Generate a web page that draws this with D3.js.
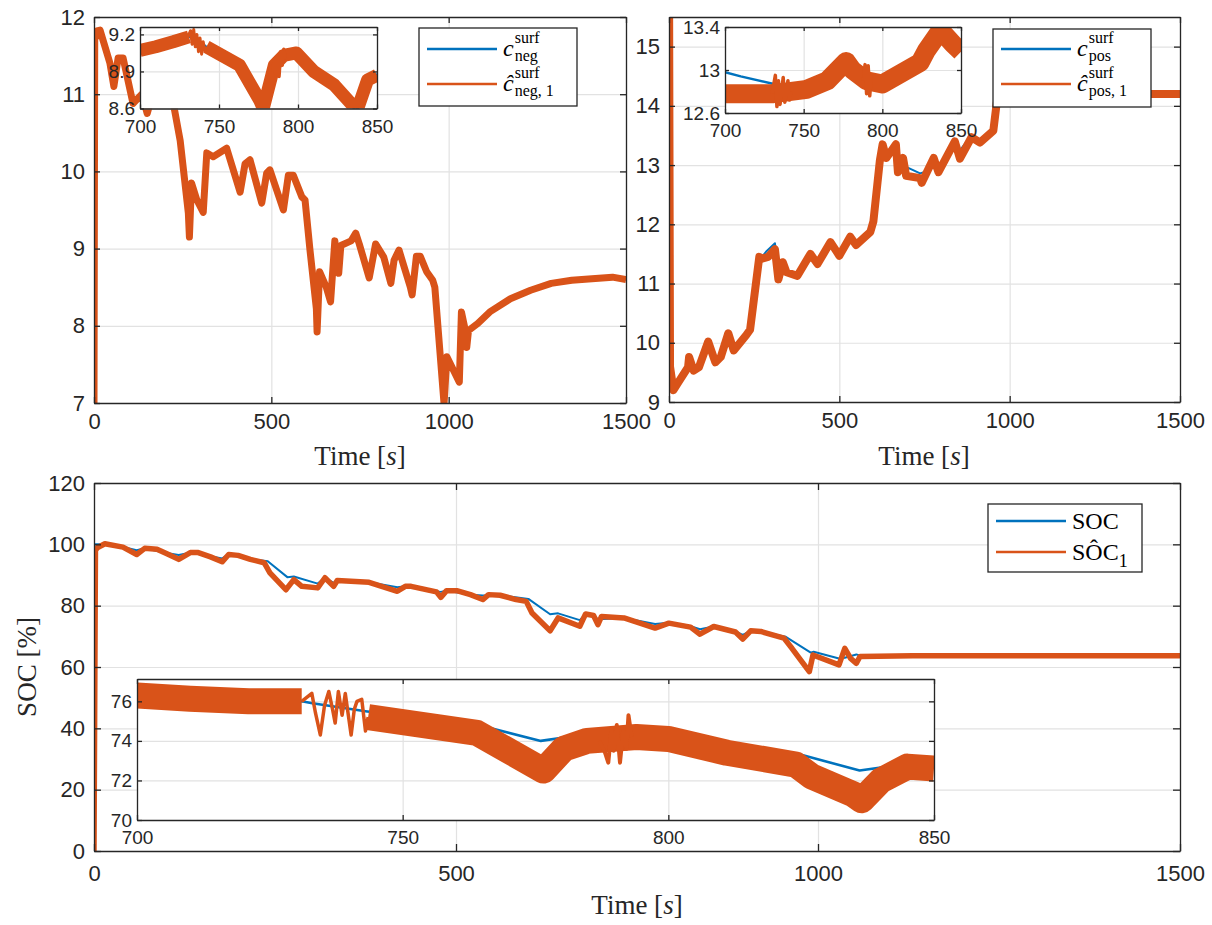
<!DOCTYPE html>
<html>
<head>
<meta charset="utf-8">
<script src="https://cdn.jsdelivr.net/npm/d3@7"></script>
<style>
  body { margin: 0; background: #fff; }
  svg { display: block; }
</style>
</head>
<body>
<svg width="1212" height="925"></svg>
<script>
// MATLAB default colours
const blue = "#0072BD";
const orange = "#D95319";
const ink = "#262626";
const gridColor = "#e2e2e2";
const sans = "'Liberation Sans', Arial, Helvetica, sans-serif";
const serif = "'Liberation Serif', 'Times New Roman', serif";

// ---------- c_neg surface concentration, [time s, value] ----------
const negTrue = [[0,6.9],[2,11.7],[8,11.82],[17,11.83],[45,11.4],[56,11.12],[68,11.47],[82,11.47],[110,10.9],[135,11.0],[150,10.8],[165,11.0],[190,11.1],[215,11.0],[225,10.87],[243,10.4],[266,9.5],[269,9.4],[275,9.85],[290,9.63],[308,9.5],[318,10.24],[336,10.19],[374,10.3],[412,9.75],[426,10.1],[440,10.15],[473,9.62],[487,9.98],[496,10.02],[534,9.52],[548,9.95],[562,9.95],[586,9.67],[595,9.63],[609,8.98],[627,8.22],[630,8.2],[636,8.7],[655,8.5],[667,8.35],[679,9.1],[690,8.7],[696,9.04],[725,9.1],[738,9.2],[748,9.06],[776,8.65],[794,9.06],[817,8.89],[837,8.57],[846,8.85],[860,8.98],[892,8.52],[897,8.45],[909,8.9],[920,8.9],[938,8.7],[955,8.6],[961,8.5],[985,7.15],[995,7.6],[1030,7.3],[1036,8.18],[1047,7.95],[1051,7.8],[1056,7.94],[1082,8.03],[1116,8.18],[1174,8.35],[1231,8.46],[1289,8.55],[1347,8.59],[1404,8.61],[1462,8.63],[1500,8.6]];
const negEst = [[0,6.9],[2,11.7],[8,11.82],[17,11.83],[45,11.4],[56,11.1],[68,11.47],[82,11.47],[110,10.88],[135,11.0],[150,10.75],[165,11.0],[190,11.1],[215,11.0],[225,10.85],[243,10.4],[266,9.46],[269,9.15],[275,9.85],[290,9.63],[308,9.47],[318,10.24],[336,10.19],[374,10.3],[412,9.73],[426,10.1],[440,10.15],[473,9.59],[487,9.98],[496,10.02],[534,9.5],[548,9.95],[562,9.95],[586,9.67],[595,9.63],[609,8.98],[627,8.22],[629,7.92],[636,8.7],[655,8.5],[667,8.31],[679,9.1],[690,8.68],[696,9.04],[725,9.1],[738,9.2],[748,9.06],[776,8.62],[794,9.06],[817,8.89],[837,8.55],[846,8.85],[860,8.98],[892,8.5],[897,8.4],[909,8.9],[920,8.9],[938,8.7],[955,8.59],[961,8.5],[987,6.99],[995,7.6],[1030,7.27],[1036,8.18],[1047,7.94],[1051,7.72],[1056,7.94],[1082,8.03],[1116,8.18],[1174,8.35],[1231,8.46],[1289,8.55],[1347,8.59],[1404,8.61],[1462,8.63],[1500,8.6]];
const negZoomTrue = [[700,9.07],[721,9.14],[734,9.19],[742,9.1],[763,8.95],[777,8.63],[785,8.95],[799,9.05],[823,8.79],[836,8.59],[838,8.6],[844,8.84],[850,8.88]];
const negZoomEst = [[700,9.07],[710,9.1],[721,9.14],[731,9.18],[null,null],[742,9.1],[763,8.95],[776,8.66],[778,8.6],[785,8.95],[791,9.03],[799,9.05],[810,8.9],[823,8.79],[835,8.62],[837,8.57],[844,8.83],[850,8.87]];
const negZoomNoise = [[730,9.17],[732,9.23],[733,9.12],[734,9.24],[735,9.1],[736,9.2],[737,9.06],[738,9.17],[739,9.04],[740,9.14],[741,9.07],[742,9.1]];
const negZoomNoise2 = [[784,8.9],[785,9.0],[786,8.87],[787,9.02],[788,8.86],[789,9.06],[790,8.95],[791,9.08],[792,9.0]];

// ---------- c_pos surface concentration ----------
const posTrue = [[0,16.5],[3,9.4],[13,9.15],[24,9.3],[56,9.62],[59,9.76],[72,9.56],[88,9.6],[115,10.02],[136,9.7],[152,9.78],[174,10.16],[190,9.9],[227,10.15],[238,10.25],[265,11.5],[273,11.45],[287,11.55],[311,11.68],[321,11.12],[334,11.36],[345,11.22],[377,11.17],[415,11.52],[436,11.36],[474,11.72],[500,11.5],[532,11.8],[549,11.68],[591,11.88],[600,12.05],[619,13.1],[627,13.38],[638,13.18],[666,13.38],[672,12.95],[687,13.1],[696,12.97],[737,12.86],[760,12.9],[777,13.12],[800,12.92],[839,13.42],[854,13.25],[888,13.5],[913,13.42],[952,13.6],[962,14.05],[980,14.2],[1500,14.22]];
const posEst = [[0,16.5],[3,9.6],[13,9.2],[24,9.3],[56,9.59],[59,9.76],[72,9.53],[88,9.59],[115,10.02],[136,9.67],[152,9.76],[174,10.16],[190,9.87],[227,10.13],[238,10.22],[265,11.45],[273,11.42],[291,11.45],[311,11.58],[321,11.07],[334,11.36],[345,11.19],[377,11.13],[415,11.5],[436,11.33],[474,11.7],[500,11.47],[532,11.79],[549,11.65],[591,11.87],[600,12.05],[619,13.08],[627,13.35],[638,13.12],[666,13.35],[672,12.88],[687,13.12],[696,12.82],[737,12.78],[742,12.7],[777,13.12],[791,12.88],[839,13.4],[854,13.11],[888,13.47],[913,13.38],[952,13.58],[962,14.05],[980,14.2],[1100,14.22],[1300,14.2],[1500,14.2]];
const posZoomTrue = [[700,12.98],[710,12.94],[731,12.87],[752,12.84],[765,12.92],[777,13.12],[786,13.0],[794,12.94],[800,12.92],[824,13.08],[837,13.4],[850,13.27]];
const posZoomEst = [[700,12.78],[731,12.78],[752,12.82],[765,12.9],[777,13.08],[781,13.0],[790,12.9],[800,12.87],[824,13.07],[828,13.18],[837,13.37],[845,13.24],[850,13.17]];
const posZoomNoise = [[730,12.78],[732,12.95],[733,12.66],[734,12.9],[735,12.68],[737,12.93],[738,12.7],[740,12.9],[741,12.72],[742,12.8]];
const posZoomNoise2 = [[788,12.9],[789,13.05],[790,12.78],[791,13.04],[792,12.76],[793,12.95]];

// ---------- SOC [%] ----------
const socTrue = [[0,100],[15,100],[40,99.1],[59,98.1],[70,98.7],[100,97.2],[117,96.5],[133,97.3],[161,96.1],[177,95.4],[186,96.7],[216,95.2],[240,94.5],[267,89.3],[276,89.5],[309,87.2],[319,89.1],[331,87.4],[336,88.2],[380,87.6],[419,86.0],[430,86.3],[473,84.7],[479,84.5],[487,84.9],[520,83.6],[537,83.3],[561,83.4],[600,82.2],[630,77.2],[641,77.5],[671,75.3],[679,77.3],[690,76.8],[696,75.6],[732,76],[775,74],[794,74.4],[824,73.3],[837,72.3],[856,73.2],[886,71.6],[896,70.5],[907,71.8],[921,71.6],[955,69.9],[990,64.7],[994,65],[1029,62.8],[1037,63],[1053,64.1],[1058,63.7],[1500,63.7]];
const socEst = [[0,0],[2,98],[4.5,98.9],[15,100.2],[40,99.1],[59,96.7],[70,98.7],[87,98.4],[100,97],[117,95.1],[133,97.3],[144,97.3],[161,95.9],[177,94.3],[186,96.7],[199,96.4],[216,95.1],[235,94],[243,90.7],[265,85.2],[276,88.5],[287,86.3],[309,85.8],[319,89.1],[331,86.3],[336,88.2],[380,87.6],[419,84.7],[430,86.3],[438,86.3],[473,84.5],[479,82.7],[487,84.9],[501,84.9],[520,83.6],[537,82],[545,83.6],[561,83.4],[583,82],[597,81.4],[605,77.6],[630,71.8],[641,76],[671,73.3],[679,77.3],[690,76.8],[696,73.8],[701,76.5],[732,76],[775,72.7],[794,74.3],[824,73],[837,70.7],[856,73.2],[886,71.4],[896,69.1],[907,71.8],[921,71.6],[953,69.4],[964,66.1],[988,58.5],[993,63.9],[1029,60.7],[1037,66.1],[1045,62.8],[1053,61.2],[1058,63.4],[1131,63.7],[1239,63.7],[1347,63.7],[1500,63.7]];
const socZoomTrue = [[700,76.4],[731,76.0],[733,75.9],[743,75.5],[765,74.75],[776,74.0],[781,74.2],[800,74.15],[825,73.3],[836,72.5],[844,72.8],[850,72.9]];
const socZoomEst = [[700,76.3],[710,76.13],[721,76.0],[731,76.0],[null,null],[743.5,75.2],[764,74.4],[776.5,72.5],[780.3,73.6],[784.7,74.0],[794,74.2],[800,74.1],[811,73.4],[824,72.8],[827,72.2],[834.8,71.3],[836.4,71.0],[840,72.0],[845,72.7],[850,72.6]];
const socZoomNoise = [[731,76.0],[732.9,76.4],[733.6,75.4],[734.5,74.3],[735.3,75.8],[736.1,76.5],[736.8,75.6],[737.3,74.9],[737.9,76.5],[738.6,75.3],[739.2,76.4],[740.3,74.3],[740.9,75.6],[741.4,76.0],[742.3,76.1],[743,74.5],[743.5,75.2]];
const socZoomNoise2 = [[787,74.0],[788.1,73.4],[788.7,72.9],[789.3,74.6],[789.7,73.5],[790.3,74.8],[790.9,72.9],[791.5,74.5],[792.1,73.6],[792.5,75.3],[793.1,74.2]];

// tick values
const timeTicks = [0, 500, 1000, 1500];
const zoomTicks = [700, 750, 800, 850];
const negTicks = [7, 8, 9, 10, 11, 12];
const posTicks = [9, 10, 11, 12, 13, 14, 15];
const socTicks = [0, 20, 40, 60, 80, 100, 120];
const negZoomYTicks = [8.6, 8.9, 9.2];
const posZoomYTicks = [12.6, 13, 13.4];
const socZoomYTicks = [70, 72, 74, 76];

const svg = d3.select("svg");
let clipCount = 0;
const plain = (d) => String(d);

const styleAxis = (sel, fs) => {
  sel.attr("font-family", sans).attr("font-size", fs);
  sel.select(".domain").attr("stroke", ink).attr("stroke-width", 1.3);
  sel.selectAll(".tick line").attr("stroke", ink).attr("stroke-width", 1.3);
  sel.selectAll(".tick text").attr("fill", ink);
};

const drawAxes = (cfg) => {
  const { left, right, top, bottom } = cfg;
  const x = d3.scaleLinear().domain(cfg.xDomain).range([left, right]);
  const y = d3.scaleLinear().domain(cfg.yDomain).range([bottom, top]);
  const g = svg.append("g");

  if (cfg.inset) {
    g.append("rect")
      .attr("x", left).attr("y", top)
      .attr("width", right - left).attr("height", bottom - top)
      .attr("fill", "#fff");
  }

  // grid
  g.append("g")
    .attr("transform", `translate(0,${bottom})`)
    .call(d3.axisBottom(x).tickValues(cfg.xTicks).tickSize(-(bottom - top)).tickFormat(""))
    .call((a) => a.select(".domain").remove())
    .selectAll("line").attr("stroke", gridColor).attr("stroke-width", 1.2);
  g.append("g")
    .attr("transform", `translate(${left},0)`)
    .call(d3.axisLeft(y).tickValues(cfg.yTicks).tickSize(-(right - left)).tickFormat(""))
    .call((a) => a.select(".domain").remove())
    .selectAll("line").attr("stroke", gridColor).attr("stroke-width", 1.2);

  // series, clipped to the axes
  const id = "clip" + clipCount++;
  svg.append("clipPath").attr("id", id)
    .append("rect")
    .attr("x", left).attr("y", top)
    .attr("width", right - left).attr("height", bottom - top);
  const plot = g.append("g").attr("clip-path", `url(#${id})`);
  const line = d3.line()
    .defined((d) => d[1] !== null)
    .x((d) => x(d[0]))
    .y((d) => y(d[1]));
  cfg.series.forEach((s) => {
    plot.append("path")
      .datum(s.data)
      .attr("d", line)
      .attr("fill", "none")
      .attr("stroke", s.color)
      .attr("stroke-width", s.width)
      .attr("stroke-linejoin", "round")
      .attr("stroke-linecap", s.cap || "butt");
  });

  // box with inward ticks
  const tl = cfg.tickLen;
  g.append("g")
    .attr("transform", `translate(0,${bottom})`)
    .call(d3.axisBottom(x).tickValues(cfg.xTicks).tickFormat(plain)
      .tickSizeInner(-tl).tickSizeOuter(0).tickPadding(cfg.xPad))
    .call((a) => styleAxis(a, cfg.fontSize));
  g.append("g")
    .attr("transform", `translate(0,${top})`)
    .call(d3.axisTop(x).tickValues(cfg.xTicks).tickSizeInner(-tl).tickSizeOuter(0).tickFormat(""))
    .call((a) => styleAxis(a, cfg.fontSize));
  g.append("g")
    .attr("transform", `translate(${left},0)`)
    .call(d3.axisLeft(y).tickValues(cfg.yTicks).tickFormat(plain)
      .tickSizeInner(-tl).tickSizeOuter(0).tickPadding(cfg.yPad))
    .call((a) => styleAxis(a, cfg.fontSize));
  g.append("g")
    .attr("transform", `translate(${right},0)`)
    .call(d3.axisRight(y).tickValues(cfg.yTicks).tickSizeInner(-tl).tickSizeOuter(0).tickFormat(""))
    .call((a) => styleAxis(a, cfg.fontSize));

  return { x, y, g };
};

const timeLabel = (cx, baseline) => {
  const t = svg.append("text")
    .attr("x", cx).attr("y", baseline)
    .attr("text-anchor", "middle")
    .attr("font-family", serif).attr("font-size", 27).attr("fill", ink);
  t.append("tspan").text("Time [");
  t.append("tspan").attr("font-style", "italic").text("s");
  t.append("tspan").text("]");
};

// legend with LaTeX-like stacked super/subscripts
const legend = (box, entries) => {
  const g = svg.append("g");
  g.append("rect")
    .attr("x", box.x).attr("y", box.y)
    .attr("width", box.w).attr("height", box.h)
    .attr("fill", "#fff").attr("stroke", ink).attr("stroke-width", 1.3);
  entries.forEach((e, i) => {
    const yy = box.y + box.first + i * box.step;
    g.append("line")
      .attr("x1", box.x + 8).attr("x2", box.x + 78)
      .attr("y1", yy).attr("y2", yy)
      .attr("stroke", e.color).attr("stroke-width", 2.6);
    const tx = box.x + 84;
    const main = g.append("text")
      .attr("x", tx).attr("y", yy + 7)
      .attr("font-family", serif).attr("font-size", 24).attr("fill", "#000");
    main.append("tspan").attr("font-style", "italic").text(e.base);
    const bw = main.node().getComputedTextLength();
    g.append("text")
      .attr("x", tx + bw + 1).attr("y", yy - 6)
      .attr("font-family", serif).attr("font-size", 16).attr("fill", "#000")
      .text(e.sup);
    g.append("text")
      .attr("x", tx + bw + 1).attr("y", yy + 12)
      .attr("font-family", serif).attr("font-size", 16).attr("fill", "#000")
      .text(e.sub);
  });
};

// ---------- top left: negative electrode ----------
drawAxes({
  left: 94, right: 626, top: 17, bottom: 403,
  xDomain: [0, 1500], yDomain: [7, 12],
  xTicks: timeTicks, yTicks: negTicks,
  tickLen: 6, fontSize: 22, xPad: 10, yPad: 9,
  series: [
    { data: negTrue, color: blue, width: 2 },
    { data: negEst, color: orange, width: 7 },
  ],
});
drawAxes({
  inset: true,
  left: 140, right: 377, top: 27, bottom: 108.5,
  xDomain: [700, 850], yDomain: [8.6, 9.26],
  xTicks: zoomTicks, yTicks: negZoomYTicks,
  tickLen: 4, fontSize: 19, xPad: 11, yPad: 5,
  series: [
    { data: negZoomTrue, color: blue, width: 2.2 },
    { data: negZoomEst, color: orange, width: 13 },
    { data: negZoomNoise, color: orange, width: 3 },
    { data: negZoomNoise2, color: orange, width: 3.5 },
  ],
});
legend({ x: 419, y: 28, w: 158, h: 78, first: 21, step: 35 }, [
  { color: blue, base: "c", sup: "surf", sub: "neg" },
  { color: orange, base: "\u0109", sup: "surf", sub: "neg, 1" },
]);
timeLabel(360, 465);

// ---------- top right: positive electrode ----------
drawAxes({
  left: 669, right: 1180, top: 17, bottom: 402,
  xDomain: [0, 1500], yDomain: [9, 15.5],
  xTicks: timeTicks, yTicks: posTicks,
  tickLen: 6, fontSize: 22, xPad: 10, yPad: 9,
  series: [
    { data: posTrue, color: blue, width: 2 },
    { data: posEst, color: orange, width: 8 },
  ],
});
drawAxes({
  inset: true,
  left: 725, right: 961, top: 27, bottom: 113,
  xDomain: [700, 850], yDomain: [12.6, 13.4],
  xTicks: zoomTicks, yTicks: posZoomYTicks,
  tickLen: 4, fontSize: 19, xPad: 11, yPad: 5,
  series: [
    { data: posZoomTrue, color: blue, width: 2.4 },
    { data: posZoomEst, color: orange, width: 19 },
    { data: posZoomNoise, color: orange, width: 3.5 },
    { data: posZoomNoise2, color: orange, width: 3.5 },
  ],
});
legend({ x: 993, y: 29, w: 158, h: 78, first: 20, step: 35 }, [
  { color: blue, base: "c", sup: "surf", sub: "pos" },
  { color: orange, base: "\u0109", sup: "surf", sub: "pos, 1" },
]);
timeLabel(924, 465);

// ---------- bottom: SOC ----------
drawAxes({
  left: 94, right: 1180, top: 483, bottom: 851,
  xDomain: [0, 1500], yDomain: [0, 120],
  xTicks: timeTicks, yTicks: socTicks,
  tickLen: 7, fontSize: 22, xPad: 14, yPad: 9,
  series: [
    { data: socTrue, color: blue, width: 2 },
    { data: socEst, color: orange, width: 5.5 },
  ],
});
drawAxes({
  inset: true,
  left: 137, right: 934, top: 679, bottom: 820,
  xDomain: [700, 850], yDomain: [70, 77.13],
  xTicks: zoomTicks, yTicks: socZoomYTicks,
  tickLen: 5, fontSize: 19, xPad: 11, yPad: 5,
  series: [
    { data: socZoomTrue, color: blue, width: 2.6 },
    { data: socZoomEst, color: orange, width: 26 },
    { data: socZoomNoise, color: orange, width: 3.5 },
    { data: socZoomNoise2, color: orange, width: 4 },
  ],
});

// SOC legend
const socLeg = svg.append("g");
socLeg.append("rect")
  .attr("x", 988).attr("y", 504).attr("width", 154).attr("height", 68)
  .attr("fill", "#fff").attr("stroke", ink).attr("stroke-width", 1.3);
[{ c: blue, y: 521 }, { c: orange, y: 552 }].forEach((d) => {
  socLeg.append("line")
    .attr("x1", 996).attr("x2", 1066).attr("y1", d.y).attr("y2", d.y)
    .attr("stroke", d.c).attr("stroke-width", 2.6);
});
socLeg.append("text")
  .attr("x", 1072).attr("y", 529)
  .attr("font-family", serif).attr("font-size", 24).attr("fill", "#000")
  .text("SOC");
const socHat = socLeg.append("text")
  .attr("x", 1072).attr("y", 560)
  .attr("font-family", serif).attr("font-size", 24).attr("fill", "#000");
socHat.append("tspan").text("S\u00D4C");
socHat.append("tspan").attr("font-size", 18).attr("dy", 7).text("1");

timeLabel(637, 914);

svg.append("text")
  .attr("transform", "translate(36,667) rotate(-90)")
  .attr("text-anchor", "middle")
  .attr("font-family", serif).attr("font-size", 27).attr("fill", ink)
  .text("SOC [%]");
</script>
</body>
</html>
